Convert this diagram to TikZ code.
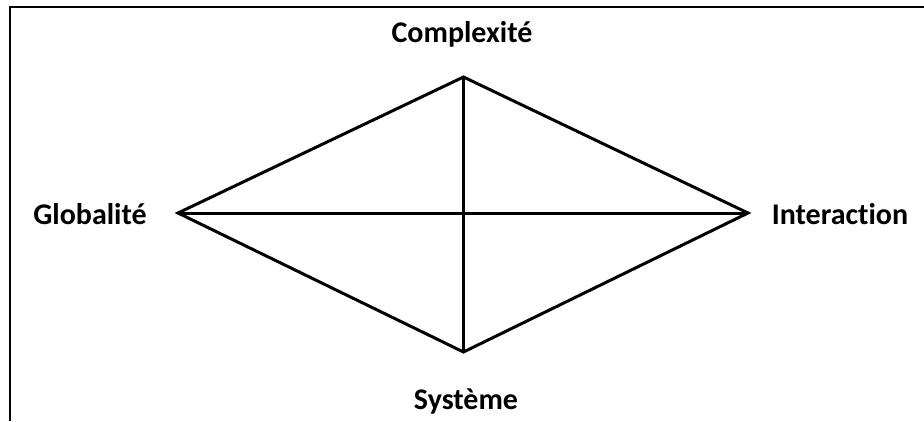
\documentclass[tikz,border=0pt]{standalone}
\usepackage{fontspec}
\setmainfont[Ligatures={NoCommon}]{Carlito}
\begin{document}
\begin{tikzpicture}[x=1pt,y=-1pt,
  lbl/.style={font=\bfseries\fontsize{30}{34}\selectfont, inner sep=0pt, text=black},
  edge/.style={line width=3pt, black, line join=miter},
  frame/.style={line width=2.4pt, black}]
\useasboundingbox (0,0) rectangle (924,421);
\draw[frame] (10,421) -- (10,7) -- (924,7);
\coordinate (T) at (463.5,77);
\coordinate (B) at (463.5,352);
\coordinate (L) at (178,213);
\coordinate (R) at (748,213);
\draw[edge] (T) -- (R) -- (B) -- (L) -- cycle;
\draw[edge] (T) -- (B);
\draw[edge] (L) -- (R);
\node[lbl] (c) at (462,34) {Complexité};
\node[lbl] (s) at (466,401) {Système};
\node[lbl] (g) at (90,214) {Globalité};
\node[lbl] (i) at (840,214) {Interaction};
\end{tikzpicture}
\end{document}
